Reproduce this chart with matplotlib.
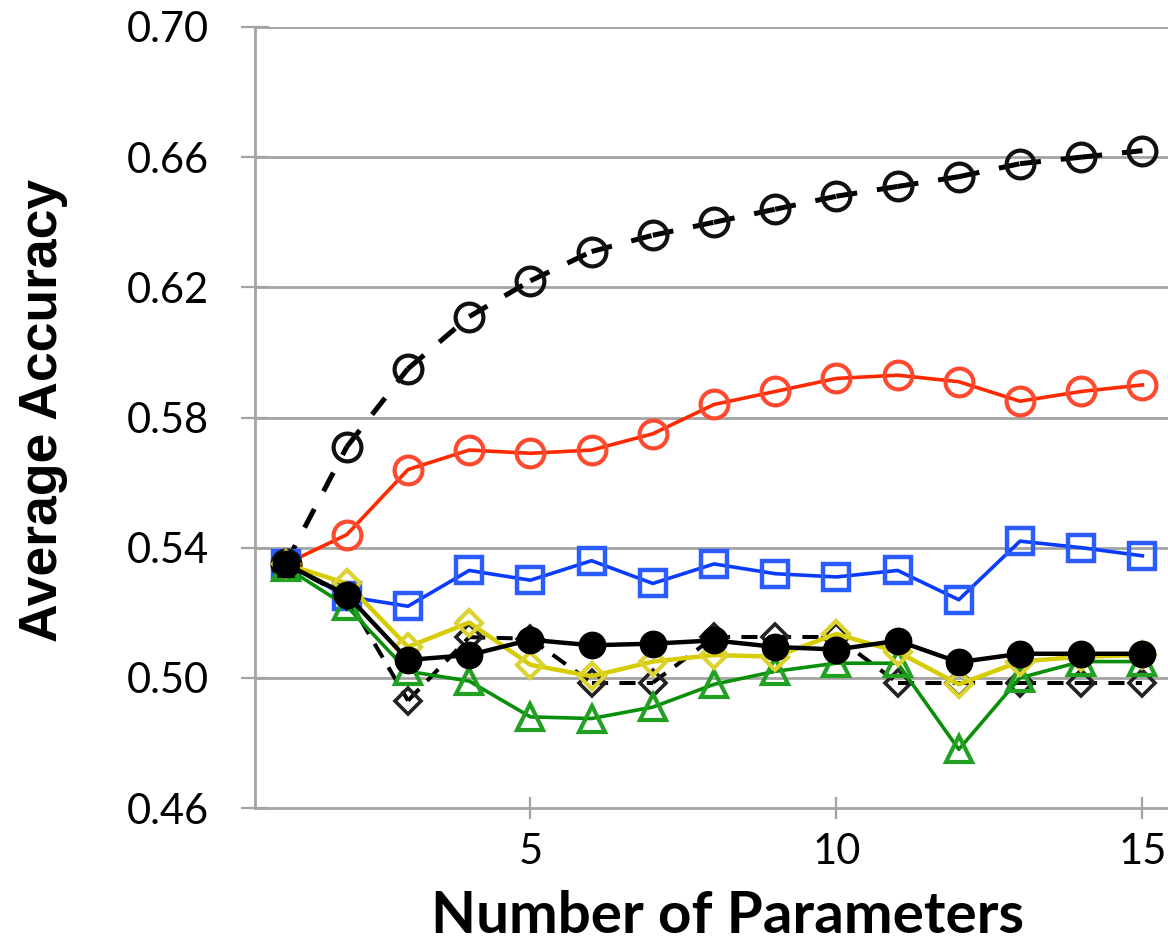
import matplotlib
matplotlib.use("Agg")
import matplotlib.pyplot as plt

params = list(range(1, 16))

dashed_circles = [0.535, 0.571, 0.595, 0.611, 0.622, 0.631, 0.636, 0.640, 0.644, 0.648, 0.651, 0.654, 0.658, 0.660, 0.662]
red_circles = [0.535, 0.544, 0.564, 0.570, 0.569, 0.570, 0.575, 0.584, 0.588, 0.592, 0.593, 0.591, 0.585, 0.588, 0.590]
blue_squares = [0.535, 0.525, 0.522, 0.533, 0.530, 0.536, 0.529, 0.535, 0.532, 0.531, 0.533, 0.524, 0.542, 0.540, 0.5375]
dashed_diamonds = [0.535, 0.525, 0.493, 0.5125, 0.512, 0.4985, 0.4985, 0.5125, 0.5125, 0.5125, 0.4985, 0.4985, 0.4985, 0.4985, 0.4985]
green_triangles = [0.534, 0.522, 0.502, 0.499, 0.488, 0.4875, 0.491, 0.498, 0.502, 0.5045, 0.5045, 0.478, 0.500, 0.505, 0.505]
yellow_diamonds = [0.535, 0.529, 0.5095, 0.517, 0.504, 0.5005, 0.505, 0.507, 0.5065, 0.5135, 0.508, 0.498, 0.505, 0.5065, 0.507]
black_filled = [0.535, 0.5255, 0.5055, 0.507, 0.5117, 0.510, 0.5105, 0.5115, 0.5095, 0.5087, 0.5114, 0.5048, 0.5074, 0.5074, 0.5074]

y_ticks = [0.46, 0.50, 0.54, 0.58, 0.62, 0.66, 0.70]
y_labels = ["0.46", "0.50", "0.54", "0.58", "0.62", "0.66", "0.70"]
x_ticks = [5, 10, 15]
x_labels = ["5", "10", "15"]

W, H = 1168, 943
fig = plt.figure(figsize=(W / 100, H / 100), dpi=100)
left, right, top, bottom = 255, 1173, 27, 808
ax = fig.add_axes([left / W, 1 - bottom / H, (right - left) / W, (bottom - top) / H])
ax.set_xlim(0.5, 15.5)
ax.set_ylim(0.46, 0.70)

grid_c = "#a3a3a3"
ax.set_yticks(y_ticks)
ax.set_yticklabels(y_labels)
ax.set_xticks(x_ticks)
ax.set_xticklabels(x_labels)
for yv in y_ticks[1:]:
    ax.axhline(yv, color=grid_c, lw=2.0, zorder=1)
for s in ["top", "right"]:
    ax.spines[s].set_visible(False)
for s in ["left", "bottom"]:
    ax.spines[s].set_color(grid_c)
    ax.spines[s].set_linewidth(2.0)
ax.tick_params(axis="y", direction="inout", length=20, width=1.6, color=grid_c,
               pad=23, labelsize=30)
ax.tick_params(axis="x", direction="inout", length=16, width=1.6, color=grid_c,
               pad=10, labelsize=30)
for lab in ax.get_xticklabels() + ax.get_yticklabels():
    lab.set_fontfamily("Lato")


def dashed_segments(ys, lw, on, off, color):
    # Dash pattern restarts at every data point, as in the original.
    for i in range(len(params) - 1):
        ax.plot(params[i:i + 2], ys[i:i + 2], color=color, lw=lw,
                linestyle=(0, (on, off)), zorder=3, clip_on=False,
                solid_capstyle="butt", dash_capstyle="butt")


dashed_segments(dashed_circles, 3.6, 4.2, 4.0, "black")
ax.plot(params, dashed_circles, linestyle="none", marker="o",
        ms=20, mfc="none", mec="#111111", mew=3.0, zorder=3.5, clip_on=False)
ax.plot(params, red_circles, color="#ff2a00", lw=2.6, marker="o",
        ms=20, mfc="none", mec="#ff4a30", mew=3.0, zorder=3, clip_on=False)
ax.plot(params, blue_squares, color="#0a3cff", lw=2.6, marker="s",
        ms=19, mfc="none", mec="#2a5cff", mew=3.2, zorder=3, clip_on=False)
dashed_segments(dashed_diamonds, 2.9, 4.0, 2.8, "black")
ax.plot(params, dashed_diamonds, linestyle="none", marker="D",
        ms=13, mfc="none", mec="#222222", mew=2.6, zorder=4, clip_on=False)
ax.plot(params, green_triangles, color="#0a8f0a", lw=2.6, marker="^",
        ms=19, mfc="none", mec="#22a022", mew=3.0, zorder=5, clip_on=False)
ax.plot(params, yellow_diamonds, color="#d6cc00", lw=3.2, marker="D",
        ms=13.5, mfc="none", mec="#dcd230", mew=3.0, zorder=6, clip_on=False)
ax.plot(params, black_filled, color="black", lw=3.2, marker="o",
        ms=19, mfc="black", mec="black", mew=1.0, zorder=7, clip_on=False)

fig.text(728 / W, 1 - 933 / H, "Number of Parameters", ha="center", va="baseline",
         fontfamily="Lato", fontweight="bold", fontsize=42)
fig.text(43 / W, 1 - 410 / H, "Average Accuracy", rotation=90, ha="center", va="center",
         fontfamily="Liberation Sans", fontweight="bold", fontsize=38.5)

fig.savefig("out.png", dpi=100)
